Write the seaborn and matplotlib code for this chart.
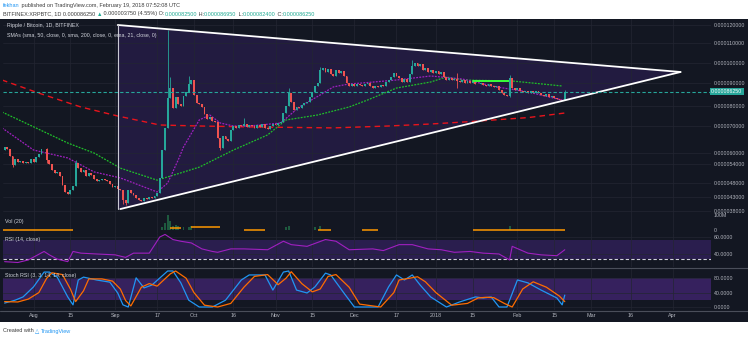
import numpy as np
import pandas as pd
import matplotlib
matplotlib.use("Agg")
import matplotlib.pyplot as plt
import matplotlib.dates as mdates
import matplotlib.transforms as mtransforms
from matplotlib.patches import Rectangle, Polygon
import seaborn as sns

# ---------------- data (prices in satoshi = 1e-8 BTC) ----------------
start_date = "2017-07-20"
first_open = 6370
closes = [
    6110, 6220, 6150, 5840, 5370, 5670, 5510, 5560, 5450, 5510,
    5450, 5670, 5510, 5780, 5950, 6150, 6140, 5620, 5400, 5210,
    5120, 5150, 5020, 4730, 4480, 4410, 4550, 4690, 5450, 5270,
    5150, 5210, 5020, 5120, 5050, 4930, 4860, 4890, 4930, 4890,
    4860, 4760, 4660, 4690, 4590, 4550, 4190, 4090, 4550, 4440,
    4370, 4260, 4190, 4160, 4260, 4230, 4300, 4260, 4340, 4440,
    4960, 6110, 6930, 8350, 8780, 7900, 8390, 8090, 8000, 8430,
    8610, 8960, 9150, 8480, 8130, 8090, 7950, 7600, 7350, 7450,
    7250, 7200, 6560, 6190, 6630, 6520, 6450, 6850, 7000, 6930,
    7050, 7000, 7100, 6960, 7050, 7000, 6930, 7050, 6960, 7100,
    6930, 6890, 7000, 7100, 7050, 7150, 7200, 7650, 8000, 8560,
    8170, 7800, 7950, 7900, 8040, 8130, 8170, 8390, 8610, 8870,
    9000, 9650, 9750, 9550, 9700, 9450, 9350, 9650, 9500, 9600,
    9350, 9000, 8870, 8960, 8870, 8960, 8910, 8870, 8960, 9000,
    8870, 8780, 8870, 8830, 8910, 8870, 9050, 9150, 9300, 9500,
    9350, 9250, 9050, 9200, 9050, 9450, 9850, 10000, 9850, 9950,
    9650, 9750, 9550, 9650, 9500, 9600, 9450, 9550, 9300, 9150,
    9250, 9150, 9200, 9100, 9050, 9150, 9000, 9100, 9000, 9050,
    8960, 8950, 9000, 8910, 8870, 8960, 8870, 8830, 8870, 8700,
    8560, 8480, 8430, 9250, 8780, 8700, 8780, 8650, 8610, 8650,
    8560, 8650, 8560, 8650, 8560, 8480, 8430, 8520, 8390, 8430,
    8350, 8300, 8260, 8250, 8625,
]
wick_days = [0, 4, 17, 28, 46, 47, 63, 64, 71, 83, 92, 109, 121, 156, 173, 193, 214]
wick_highs = [6440, 5840, 6190, 5620, 4550, 4190, 11720, 9300, 9350, 6560, 7400, 8780, 9800, 10150, 9500, 9400, 8695]
wick_lows = [6040, 5300, 5450, 4690, 4050, 4020, 6930, 8350, 8610, 6110, 7000, 8000, 9000, 9450, 8780, 8390, 8240]
last_price = 8625

# moving averages (day offset from start, price)
sma200_days = [0, 14, 30, 44, 60, 75, 98, 126, 147, 163, 178, 200, 211, 214]
sma200_vals = [9150, 8560, 7950, 7500, 7050, 7000, 6960, 6930, 7000, 7100, 7220, 7420, 7600, 7650]
sma50_days = [0, 12, 25, 35, 45, 59, 68, 75, 88, 101, 108, 120, 132, 139, 150, 163, 169, 175, 194, 213]
sma50_vals = [7700, 6970, 6370, 6000, 5270, 4890, 5120, 5300, 6110, 6670, 7300, 7550, 7950, 8260,
              8780, 9050, 9300, 9150, 9100, 8870]
ema21_days = [0, 12, 25, 35, 45, 59, 63, 67, 69, 75, 79, 83, 88, 94, 106, 113, 121, 126, 132, 137,
              150, 163, 175, 188, 200, 213]
ema21_vals = [6930, 6110, 5730, 5150, 4960, 4480, 4800, 5620, 6220, 7300, 7550, 7150, 7000, 7000,
              7150, 7950, 8480, 8830, 8960, 9000, 9150, 9350, 9200, 8830, 8610, 8260]
green_seg_dates = ["2018-01-15", "2018-01-30"]
green_seg_price = 9115

# triangle drawing
tri_dates = ["2017-09-02", "2018-04-04", "2017-09-03"]
tri_prices = [12000, 9550, 3870]

# volume (millions) and its MA segments
vol_days = [61, 62, 63, 64, 65, 66, 67, 69, 71, 72, 108, 109, 119, 121, 193]
vol_vals = [20, 45, 100, 60, 30, 35, 25, 20, 22, 25, 20, 30, 18, 28, 30]
volma_start = [0, 64, 72, 92, 120, 137, 179]
volma_end = [27, 68, 83, 100, 125, 143, 214]
volma_level = [1, 13, 20, 3, 3, 3, 1]

# RSI(14)
rsi_days = [1, 6, 10, 16, 18, 21, 25, 27, 30, 36, 43, 47, 50, 56, 60, 62, 65, 68, 72, 76, 80, 82, 87,
            92, 101, 107, 110, 116, 123, 127, 132, 141, 145, 151, 156, 162, 167, 172, 178, 183, 189,
            193, 194, 200, 205, 211, 214]
rsi_vals = [31, 30, 33, 43, 39, 34, 31, 43, 41, 40, 39, 36, 41, 41, 60, 63, 57, 55, 53, 46, 43, 42, 46,
            46, 45, 55, 51, 49, 57, 55, 45, 46, 44, 51, 51, 46, 45, 42, 43, 41, 40, 33, 49, 41, 39, 38, 45]

# Stoch RSI K and D
k_days = [1, 5, 8, 12, 16, 18, 21, 25, 27, 29, 31, 36, 41, 44, 46, 48, 51, 54, 57, 63, 65, 68, 71, 75,
          80, 85, 91, 94, 100, 103, 107, 109, 112, 116, 119, 123, 125, 130, 134, 143, 147, 150, 153,
          156, 159, 163, 169, 174, 180, 183, 186, 189, 192, 196, 200, 205, 211, 213, 214]
k_vals = [11, 19, 28, 56, 97, 97, 83, 28, 6, 75, 83, 75, 69, 39, 6, 0, 81, 53, 61, 100, 100, 67, 19, 0,
          0, 19, 75, 89, 89, 47, 97, 100, 47, 39, 56, 94, 89, 39, 0, 0, 56, 89, 75, 89, 61, 28, 0, 14,
          28, 25, 28, 0, 0, 75, 67, 47, 25, 6, 33]
d_days = [1, 6, 10, 14, 17, 19, 23, 26, 28, 31, 33, 38, 42, 45, 47, 49, 53, 56, 59, 64, 66, 70, 73, 77,
          82, 87, 92, 96, 101, 105, 108, 110, 114, 118, 121, 124, 127, 132, 136, 144, 149, 151, 155,
          158, 161, 165, 171, 177, 181, 184, 187, 191, 194, 198, 202, 207, 212, 214]
d_vals = [15, 14, 22, 40, 80, 95, 90, 50, 15, 45, 78, 78, 72, 50, 18, 3, 55, 65, 58, 92, 100, 80, 40, 5,
          0, 10, 55, 85, 90, 62, 80, 98, 65, 42, 50, 85, 90, 55, 8, 0, 40, 75, 80, 84, 70, 40, 5, 10,
          25, 27, 26, 10, 0, 50, 70, 55, 30, 15]

price_ticks = [12000, 11000, 10000, 9000, 8000, 7000, 6000, 5400, 4800, 4300, 3800]
tick_dates = ["2017-08-01", "2017-08-15", "2017-09-01", "2017-09-17", "2017-10-01", "2017-10-16",
              "2017-11-01", "2017-11-15", "2017-12-01", "2017-12-17", "2018-01-01", "2018-01-15",
              "2018-02-01", "2018-02-15", "2018-03-01", "2018-03-16", "2018-04-01"]
tick_labels = ["Aug", "15", "Sep", "17", "Oct", "16", "Nov", "15", "Dec", "17", "2018", "15",
               "Feb", "15", "Mar", "16", "Apr"]

# ---------------- style ----------------
sns.set_theme(style="dark")
plt.rcParams["font.family"] = ["Liberation Sans", "DejaVu Sans"]
BG = "#131722"
GRID = "#232632"
TXT = "#b2b5be"
UP = "#26a69a"
DOWN = "#ef5350"
W, H = 748, 339

fig = plt.figure(figsize=(W / 100, H / 100), dpi=100)
fig.patch.set_facecolor("white")
fig.add_artist(Rectangle((0, 1 - 322 / H), 1, (322 - 19) / H, transform=fig.transFigure,
                         facecolor=BG, edgecolor="none", zorder=-10))


def frame(x0, y0, x1, y1):
    return [x0 / W, 1 - y1 / H, (x1 - x0) / W, (y1 - y0) / H]


ax = fig.add_axes(frame(3, 19, 711, 233))
ax_rsi = fig.add_axes(frame(3, 233, 711, 267), sharex=ax)
ax_st = fig.add_axes(frame(3, 268, 711, 310), sharex=ax)

# price scale: piecewise mapping following the chart's price axis
scale_prices = np.array([2000, 3800, 4300, 4800, 5400, 6000, 7000, 8000, 9000, 10000, 11000, 12000, 15000], float)
scale_rows = np.array([261.4, 211, 197, 183, 164, 153, 126, 106, 83, 63, 43, 25, -29], float)


def fwd(v):
    return -np.interp(v, scale_prices, scale_rows)


def inv(v):
    return np.interp(-np.asarray(v, float), scale_rows[::-1], scale_prices[::-1])


ax.set_yscale("function", functions=(fwd, inv))
ax.set_ylim(float(inv(-233)), float(inv(-19)))

t0 = mdates.date2num(pd.Timestamp(start_date))
ax.set_xlim(t0 + 0.38, t0 + 269.6)

dates = pd.date_range(start_date, periods=len(closes), freq="D")
x = mdates.date2num(dates)
c = np.array(closes, float)
o = np.r_[first_open, c[:-1]]
hi = np.maximum(o, c)
lo = np.minimum(o, c)
for d, wh, wl in zip(wick_days, wick_highs, wick_lows):
    hi[d] = wh
    lo[d] = wl
cols = np.where(c >= o, UP, DOWN)

# volume overlay (twin axes on the price pane)
axv = ax.twinx()


def style_axes(a):
    a.set_facecolor("none")
    for s in a.spines.values():
        s.set_visible(False)
    a.set_xticks(mdates.date2num(pd.to_datetime(tick_dates)))
    a.grid(True, color=GRID, lw=0.5)
    a.set_axisbelow(True)
    a.tick_params(axis="x", length=0, labelbottom=False)
    a.yaxis.tick_right()
    a.tick_params(axis="y", length=0, left=False, labelleft=False, right=False, labelright=True,
                  pad=2, labelsize=3.8, labelcolor=TXT)


for a in (ax, ax_rsi, ax_st):
    style_axes(a)

# triangle fill
tx = mdates.date2num(pd.to_datetime(tri_dates))
poly = Polygon([(tx[0], tri_prices[0]), (tx[1], tri_prices[1]), (tx[2], tri_prices[2]),
                (tx[0], tri_prices[2])], closed=True, facecolor="#221b40", edgecolor="none", zorder=0.5)
ax.add_patch(poly)

# moving averages
sns.lineplot(x=t0 + np.array(sma200_days), y=sma200_vals, ax=ax, color="#e8141c", lw=1.0,
             linestyle=(0, (4, 3)), estimator=None, zorder=2)
sns.lineplot(x=t0 + np.array(sma50_days), y=sma50_vals, ax=ax, color="#1fbf2a", lw=0.9,
             linestyle=(0, (1.5, 1)), estimator=None, zorder=2)
sns.lineplot(x=t0 + np.array(ema21_days), y=ema21_vals, ax=ax, color="#a020c0", lw=0.9,
             linestyle=(0, (1.5, 1)), estimator=None, zorder=2)
gx = mdates.date2num(pd.to_datetime(green_seg_dates))
ax.plot(gx, [green_seg_price] * 2, color="#39ff3a", lw=1.4, zorder=2)

# candles
ax.vlines(x, lo, hi, colors=cols, lw=0.6, zorder=3)
ax.bar(x, np.abs(c - o), bottom=np.minimum(o, c), width=0.72, color=cols, linewidth=0, zorder=3)

# triangle edges
ax.plot([tx[0], tx[1]], [tri_prices[0], tri_prices[1]], color="white", lw=1.3, zorder=4)
ax.plot([tx[2], tx[1]], [tri_prices[2], tri_prices[1]], color="white", lw=1.3, zorder=4)
ax.plot([tx[0], tx[0]], [tri_prices[0], tri_prices[2]], color="#c9c9d3", lw=0.8, zorder=4)

# last price line + label
ax.axhline(last_price, color=UP, lw=0.8, ls=(0, (3, 2)), zorder=4)
ax.text(1.0, last_price, f"{last_price * 1e-8:.9f}",
        transform=mtransforms.blended_transform_factory(ax.transAxes, ax.transData),
        ha="left", va="center", fontsize=3.8, color="white",
        bbox=dict(boxstyle="square,pad=0.25", fc=UP, ec="none"), zorder=6, clip_on=False)

ax.set_yticks(price_ticks)
ax.set_yticklabels([f"{p * 1e-8:.9f}" for p in price_ticks])
ax.yaxis.set_minor_locator(matplotlib.ticker.NullLocator())
ax.yaxis.tick_right()
ax.tick_params(axis="y", length=0, left=False, labelleft=False, right=False, labelright=True,
               pad=2, labelsize=3.8, labelcolor=TXT)

axv.set_facecolor("none")
for s in axv.spines.values():
    s.set_visible(False)
axv.set_ylim(-20, 1406.7)
axv.bar(t0 + np.array(vol_days), vol_vals, width=0.72, color="#1e5a3f", linewidth=0, zorder=1)
axv.hlines(volma_level, t0 + np.array(volma_start), t0 + np.array(volma_end), color="#ff9800", lw=1.1)
axv.set_yticks([100, 0])
axv.set_yticklabels(["100M", "0"])
axv.tick_params(axis="y", length=0, pad=2, labelsize=3.8, labelcolor=TXT)
axv.grid(False)

# RSI pane
ax_rsi.set_ylim(24.7, 64.7)
ax_rsi.axhspan(34, 56.5, color="#2a1e4e", lw=0, zorder=0)
ax_rsi.axhline(34, color="#d0d0dc", lw=0.8, ls=(0, (3, 2)), zorder=1)
sns.lineplot(x=t0 + np.array(rsi_days), y=rsi_vals, ax=ax_rsi, color="#a020c0", lw=0.8, estimator=None, zorder=2)
ax_rsi.set_yticks([60, 40])
ax_rsi.set_yticklabels(["60.0000", "40.0000"])

# Stoch RSI pane
ax_st.set_ylim(-8.3, 108.3)
ax_st.axhspan(20, 80, color="#36215e", lw=0, zorder=0)
sns.lineplot(x=t0 + np.array(k_days), y=k_vals, ax=ax_st, color="#2196f3", lw=0.9, estimator=None, zorder=2)
sns.lineplot(x=t0 + np.array(d_days), y=d_vals, ax=ax_st, color="#ff6d00", lw=0.9, estimator=None, zorder=2)
ax_st.set_yticks([80, 40, 0])
ax_st.set_yticklabels(["80.0000", "40.0000", "0.0000"])
ax_st.tick_params(axis="x", labelbottom=True, labelsize=3.9, labelcolor=TXT, pad=2.5)
ax_st.set_xticklabels(tick_labels)
for a in (ax, ax_rsi, ax_st, axv):
    a.set_xlabel("")
    a.set_ylabel("")

# pane separators
for yy, col in ((267.5, "#4a4e5a"), (310.5, "#4a4e5a")):
    fig.add_artist(plt.Line2D([0, 1], [1 - yy / H] * 2, transform=fig.transFigure, color=col, lw=0.8))

# pane legends
fs = 3.8
fig.text(7 / W, 1 - 26 / H, "Ripple / Bitcoin, 1D, BITFINEX", color="#d1d4dc", fontsize=fs, va="center")
fig.text(7 / W, 1 - 35 / H, "SMAs (sma, 50, close, 0, sma, 200, close, 0, ema, 21, close, 0)",
         color="#d1d4dc", fontsize=fs, va="center")
fig.text(5 / W, 1 - 222 / H, "Vol (20)", color="#d1d4dc", fontsize=fs, va="center")
fig.text(5 / W, 1 - 240 / H, "RSI (14, close)", color="#d1d4dc", fontsize=fs, va="center")
fig.text(5 / W, 1 - 276 / H, "Stoch RSI (3, 3, 14, 14, close)", color="#d1d4dc", fontsize=fs, va="center")

# header and footer
renderer = fig.canvas.get_renderer()


def seq_text(x0, y, parts, size):
    xx = x0
    for s, col in parts:
        t = fig.text(xx, 1 - y / H, s, color=col, fontsize=size, va="center", ha="left")
        xx += t.get_window_extent(renderer=renderer).width / fig.bbox.width


DARK = "#3c3c3c"
GREENTXT = "#22ab94"
seq_text(3 / W, 5.5, [("fekhan", "#2196f3"),
                      (" published on TradingView.com, February 19, 2018 07:52:08 UTC", DARK)], 4.0)
seq_text(3 / W, 14, [("BITFINEX:XRPBTC, 1D 0.000086250 ", DARK), ("\u25b2", GREENTXT),
                     (" 0.000003750 (4.55%) O:", DARK), ("0.000082500", GREENTXT), (" H:", DARK),
                     ("0.000086950", GREENTXT), (" L:", DARK), ("0.000082400", GREENTXT), (" C:", DARK),
                     ("0.000086250", GREENTXT)], 4.0)
seq_text(3 / W, 331, [("Created with ", DARK), ("\u25b3 ", "#2196f3"), ("TradingView", "#2196f3")], 4.0)

fig.savefig("out.png", dpi=100)
